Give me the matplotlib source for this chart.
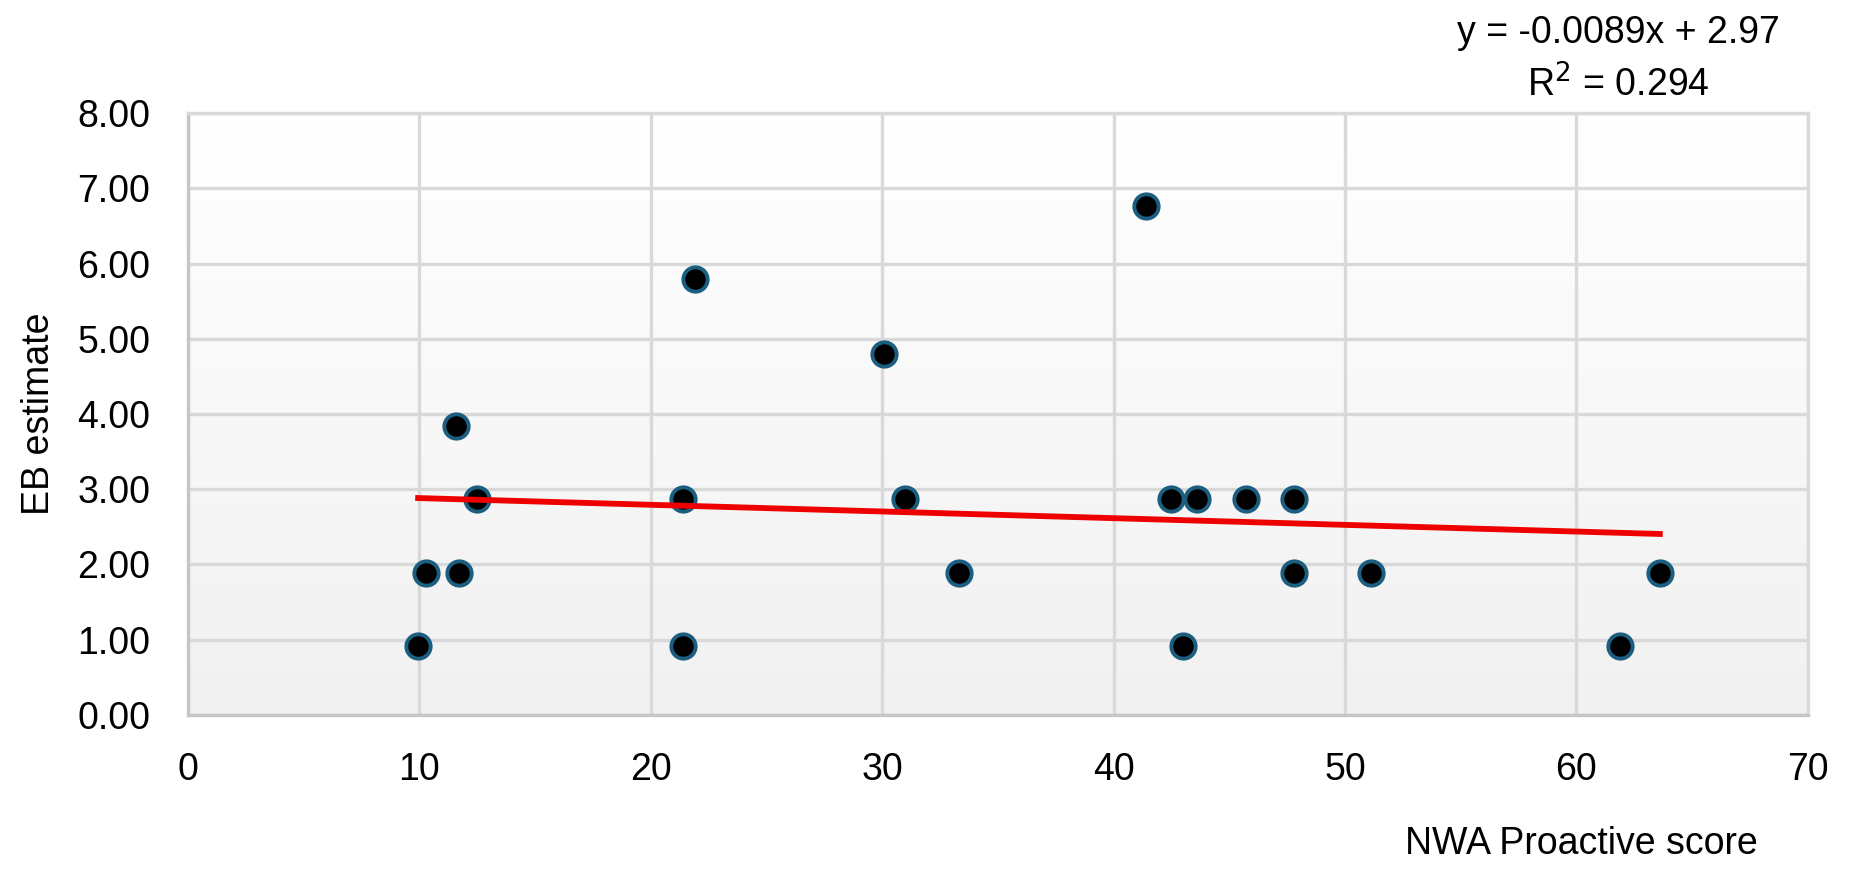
import numpy as np
import matplotlib.pyplot as plt

# NWA Proactive score vs EB estimate
nwa_score = [9.95, 10.3, 11.6, 11.7, 12.5, 21.4, 21.4, 21.9, 30.1, 31.0, 33.3,
             41.4, 42.5, 43.6, 43.0, 45.7, 47.8, 47.8, 51.1, 61.9, 63.6]
eb_estimate = [0.91, 1.88, 3.84, 1.88, 2.87, 2.87, 0.91, 5.79, 4.80, 2.87, 1.88,
               6.77, 2.87, 2.87, 0.91, 2.87, 2.87, 1.88, 1.88, 0.91, 1.88]

slope = -0.0089
intercept = 2.97
r_squared = 0.294

x_ticks = [0, 10, 20, 30, 40, 50, 60, 70]
y_ticks = [0, 1, 2, 3, 4, 5, 6, 7, 8]

plt.rcParams['font.family'] = ['Liberation Sans', 'DejaVu Sans']
fs = 27

fig = plt.figure(figsize=(18.6, 8.77), dpi=100)
ax = fig.add_axes([0.101, 0.185, 0.871, 0.686])

# soft vertical gradient behind the plot: white at top, light grey at bottom
grad = np.linspace(1.0, 0.945, 256).reshape(-1, 1)
ax.imshow(np.dstack([grad, grad, grad]), extent=[0, 70, 0, 8], aspect='auto',
          zorder=0, interpolation='bicubic')
ax.set_xlim(0, 70)
ax.set_ylim(0, 8)

ax.set_xticks(x_ticks)
ax.set_yticks(y_ticks)
ax.set_yticklabels([f'{v:.2f}' for v in y_ticks])
ax.grid(True, color='#d9d9d9', linewidth=2.4, zorder=1)
ax.set_axisbelow(True)
ax.tick_params(length=0, labelsize=fs, colors='black')
ax.tick_params(axis='y', pad=27)
ax.tick_params(axis='x', pad=27)

for side in ['top', 'right']:
    ax.spines[side].set_color('#d9d9d9')
    ax.spines[side].set_linewidth(2.4)
for side in ['left', 'bottom']:
    ax.spines[side].set_color('#c6c6c6')
    ax.spines[side].set_linewidth(2.4)

ax.plot(nwa_score, eb_estimate, 'o', markersize=17.5, markerfacecolor='black',
        markeredgecolor='#1b5e80', markeredgewidth=2.8, zorder=3, clip_on=False)

xs = np.array([min(nwa_score), max(nwa_score)])
ax.plot(xs, slope * xs + intercept, color='#ee0000', linewidth=4.2, zorder=4)

ax.set_ylabel('EB estimate', fontsize=fs, labelpad=15)
ax.set_xlabel('NWA Proactive score', fontsize=fs)
ax.xaxis.set_label_coords(0.86, -0.185)

fig.text(0.87, 0.962, f'y = {slope}x + {intercept}', fontsize=fs,
         ha='center', va='center')
fig.text(0.87, 0.903, f'R$^2$ = {r_squared}', fontsize=fs,
         ha='center', va='center')

fig.savefig('out.png', dpi=100, facecolor='white')
